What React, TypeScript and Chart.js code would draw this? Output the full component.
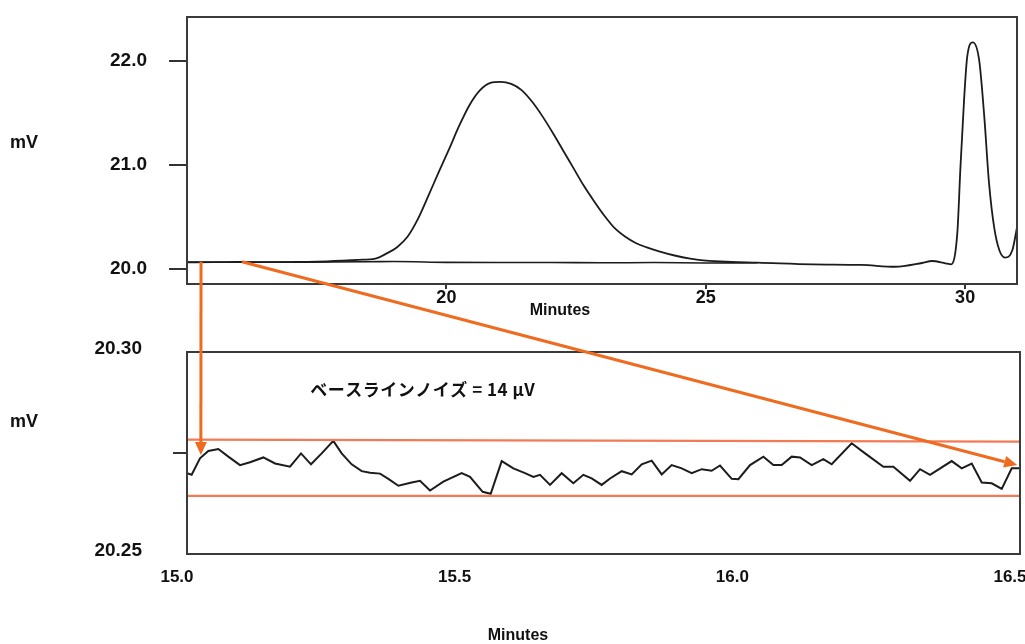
import React, { useEffect, useRef } from 'react';
import { Chart, registerables } from 'chart.js';

Chart.register(...registerables);

// ---------- upper panel (chromatogram) ----------
const mainTime = [
  15.0, 15.5, 16.0, 16.5, 17.0, 17.5, 18.0, 18.3, 18.63, 18.85, 19.05, 19.25, 19.45, 19.65, 19.85,
  20.05, 20.25, 20.45, 20.65, 20.85, 21.04, 21.25, 21.45, 21.65, 21.85, 22.05, 22.25, 22.45, 22.65,
  22.85, 23.05, 23.25, 23.45, 23.65, 23.85, 24.1, 24.4, 24.7, 25.0, 25.5, 26.0, 27.06, 28.0, 28.65,
  29.17, 29.36, 29.62, 29.73, 29.85, 29.91, 29.98, 30.04, 30.15, 30.27, 30.37, 30.46, 30.56, 30.66,
  30.77, 30.91, 31.0,
];
const mainValue = [
  20.065, 20.066, 20.068, 20.066, 20.067, 20.07, 20.08, 20.088, 20.1, 20.15, 20.21, 20.31, 20.48,
  20.7, 20.93, 21.15, 21.38, 21.58, 21.72, 21.79, 21.8, 21.78, 21.72, 21.61, 21.47, 21.31, 21.14,
  20.97, 20.8, 20.65, 20.51, 20.39, 20.31, 20.25, 20.21, 20.17, 20.13, 20.1, 20.08, 20.068, 20.062,
  20.045, 20.04, 20.022, 20.058, 20.077, 20.055, 20.045, 20.35, 20.98, 21.63, 22.04, 22.18, 22.01,
  21.46, 20.83, 20.4, 20.18, 20.11, 20.18, 20.4,
];
const blankTime = [15.0, 17.0, 18.5, 19.0, 20.0, 21.0, 22.0, 23.0, 24.0, 25.0, 26.0];
const blankValue = [20.065, 20.066, 20.07, 20.072, 20.064, 20.062, 20.063, 20.06, 20.062, 20.058, 20.06];
const topXTicks = [20, 25, 30];
const topYTicks = [20, 21, 22];

// ---------- lower panel (baseline noise) ----------
const noiseTime = [
  15.0, 15.0084, 15.0234, 15.0384, 15.0564, 15.0744, 15.0954, 15.1135, 15.1375, 15.1585, 15.1855,
  15.2053, 15.2233, 15.2425, 15.2635, 15.2785, 15.2965, 15.3146, 15.3296, 15.3476, 15.3626, 15.3806,
  15.4046, 15.4196, 15.4376, 15.4616, 15.4946, 15.5096, 15.5324, 15.5469, 15.5667, 15.5877, 15.6087,
  15.6237, 15.6357, 15.6537, 15.6747, 15.6957, 15.7137, 15.7287, 15.7467, 15.7618, 15.7828, 15.8008,
  15.8188, 15.8368, 15.8548, 15.8728, 15.8908, 15.9088, 15.9268, 15.9448, 15.9598, 15.9809, 15.9929,
  16.0139, 16.0379, 16.0559, 16.0709, 16.0889, 16.1039, 16.1249, 16.1459, 16.1609, 16.1969, 16.221,
  16.254, 16.272, 16.302, 16.32, 16.338, 16.377, 16.3951, 16.4131, 16.4311, 16.4491, 16.4671, 16.4851,
  16.5,
];
const noiseValue = [
  20.27, 20.2696, 20.2737, 20.2755, 20.276, 20.2741, 20.272, 20.2727, 20.2739, 20.2724, 20.2716,
  20.2749, 20.2722, 20.2749, 20.278, 20.2749, 20.2722, 20.2705, 20.2701, 20.2699, 20.2686, 20.2669,
  20.2677, 20.2681, 20.2657, 20.2679, 20.27, 20.2691, 20.2654, 20.2649, 20.273, 20.2712, 20.27,
  20.2691, 20.2696, 20.2671, 20.27, 20.2675, 20.2696, 20.2687, 20.2671, 20.2687, 20.2705, 20.2697,
  20.2722, 20.2731, 20.2697, 20.272, 20.2712, 20.27, 20.271, 20.2706, 20.2719, 20.2686, 20.2685,
  20.272, 20.2741, 20.272, 20.272, 20.2741, 20.2739, 20.272, 20.2735, 20.2722, 20.2774, 20.2749,
  20.2716, 20.2716, 20.2681, 20.271, 20.2696, 20.273, 20.2712, 20.2724, 20.2677, 20.2675, 20.2661,
  20.2712, 20.2712,
];
const bandTime = [15.0, 16.5];
const bandUpper = [20.2783, 20.2778];
const bandLower = [20.2644, 20.2644];
const bottomXTicks = [15.0, 15.5, 16.0, 16.5];
const bottomYTicks = [20.25, 20.275, 20.3];
const bottomYLabels = ['20.25', '', '20.30'];
const noiseText = 'ベースラインノイズ = 14 μV';
const noiseTextAt = [15.222, 20.2906];

// ---------- arrows (upper panel point -> lower panel point) ----------
const arrowFromTop = [
  [15.27, 20.07],
  [16.06, 20.07],
];
const arrowToBottom = [
  [15.025, 20.2745],
  [16.495, 20.272],
];

const W = 1025;
const TOP_H = 330;
const BOT_Y = 330;
const BOT_H = 314;
const FONT = "'Liberation Sans', Arial, Helvetica, sans-serif";
const INK = '#1c1c1c';

const boxPlugin = {
  id: 'boxFrame',
  afterDraw(chart: any) {
    const { ctx, chartArea: a } = chart;
    ctx.save();
    ctx.strokeStyle = '#3a3a3a';
    ctx.lineWidth = 2;
    ctx.strokeRect(a.left, a.top, a.right - a.left, a.bottom - a.top);
    ctx.restore();
  },
};

const noiseTextPlugin = {
  id: 'noiseText',
  afterDraw(chart: any) {
    const { ctx, scales } = chart;
    ctx.save();
    ctx.fillStyle = '#111';
    ctx.font = "bold 17px 'Noto Sans CJK JP', sans-serif";
    try {
      (ctx as any).letterSpacing = '0.5px';
    } catch (e) {
      /* ignore */
    }
    ctx.textAlign = 'left';
    ctx.textBaseline = 'middle';
    ctx.fillText(noiseText, scales.x.getPixelForValue(noiseTextAt[0]), scales.y.getPixelForValue(noiseTextAt[1]));
    ctx.restore();
  },
};

function pts(xs: number[], ys: number[]) {
  return xs.map((x, i) => ({ x, y: ys[i] }));
}

function drawArrow(ctx: CanvasRenderingContext2D, x1: number, y1: number, x2: number, y2: number) {
  const head = 13;
  const half = 6;
  const dx = x2 - x1;
  const dy = y2 - y1;
  const len = Math.hypot(dx, dy);
  const ux = dx / len;
  const uy = dy / len;
  const bx = x2 - ux * head;
  const by = y2 - uy * head;
  ctx.beginPath();
  ctx.moveTo(x1, y1);
  ctx.lineTo(bx, by);
  ctx.stroke();
  ctx.beginPath();
  ctx.moveTo(x2, y2);
  ctx.lineTo(bx - uy * half, by + ux * half);
  ctx.lineTo(bx + uy * half, by - ux * half);
  ctx.closePath();
  ctx.fill();
}

export default function App() {
  const topRef = useRef<HTMLCanvasElement>(null);
  const botRef = useRef<HTMLCanvasElement>(null);
  const overRef = useRef<HTMLCanvasElement>(null);

  useEffect(() => {
    const tickFont = { family: FONT, size: 18, weight: 'bold' as const, lineHeight: 1 };

    const top = new Chart(topRef.current!, {
      type: 'line',
      data: {
        datasets: [
          {
            data: pts(blankTime, blankValue),
            borderColor: INK,
            borderWidth: 1.6,
            pointRadius: 0,
            tension: 0.4,
            cubicInterpolationMode: 'monotone',
          },
          {
            data: pts(mainTime, mainValue),
            borderColor: INK,
            borderWidth: 1.8,
            pointRadius: 0,
            tension: 0.4,
            cubicInterpolationMode: 'monotone',
          },
        ],
      },
      options: {
        responsive: false,
        animation: false,
        layout: { padding: { top: 17, right: 8, bottom: 16, left: 0 } },
        plugins: { legend: { display: false }, tooltip: { enabled: false } },
        scales: {
          x: {
            type: 'linear',
            min: 15,
            max: 31,
            afterBuildTicks: (s: any) => {
              s.ticks = topXTicks.map((v) => ({ value: v }));
            },
            afterFit: (s: any) => {
              s.height = 30;
              s.paddingLeft = 0;
              s.paddingRight = 0;
            },
            border: { display: false },
            grid: { display: true, drawOnChartArea: false, drawTicks: true, tickLength: 5, color: '#333', lineWidth: 2 },
            ticks: {
              font: tickFont,
              color: '#111',
              padding: 0,
              maxRotation: 0,
              autoSkip: false,
              callback: (v: any) => String(v),
            },
          },
          y: {
            type: 'linear',
            min: 19.856,
            max: 22.423,
            afterBuildTicks: (s: any) => {
              s.ticks = topYTicks.map((v) => ({ value: v }));
            },
            afterFit: (s: any) => {
              s.width = 187;
              s.paddingTop = 0;
              s.paddingBottom = 0;
            },
            border: { display: false },
            grid: { display: true, drawOnChartArea: false, drawTicks: true, tickLength: 18, color: '#333', lineWidth: 2 },
            ticks: {
              font: { family: FONT, size: 19, weight: 'bold' as const, lineHeight: 1 },
              color: '#111',
              padding: 22,
              autoSkip: false,
              callback: (v: any) => Number(v).toFixed(1),
            },
          },
        },
      },
      plugins: [boxPlugin],
    } as any);

    const bot = new Chart(botRef.current!, {
      type: 'line',
      data: {
        datasets: [
          {
            data: pts(bandTime, bandUpper),
            borderColor: '#F27A55',
            borderWidth: 2.2,
            pointRadius: 0,
            tension: 0,
          },
          {
            data: pts(bandTime, bandLower),
            borderColor: '#F27A55',
            borderWidth: 2.2,
            pointRadius: 0,
            tension: 0,
          },
          {
            data: pts(noiseTime, noiseValue),
            borderColor: INK,
            borderWidth: 2,
            pointRadius: 0,
            tension: 0,
          },
        ],
      },
      options: {
        responsive: false,
        animation: false,
        layout: { padding: { top: 22, right: 5, bottom: 50, left: 0 } },
        plugins: { legend: { display: false }, tooltip: { enabled: false } },
        scales: {
          x: {
            type: 'linear',
            min: 15,
            max: 16.5,
            afterBuildTicks: (s: any) => {
              s.ticks = bottomXTicks.map((v) => ({ value: v }));
            },
            afterFit: (s: any) => {
              s.height = 40;
              s.paddingLeft = 0;
              s.paddingRight = 0;
            },
            border: { display: false },
            grid: { display: false, drawTicks: false },
            ticks: {
              font: { family: FONT, size: 17, weight: 'bold' as const, lineHeight: 1 },
              color: '#111',
              padding: 15,
              labelOffset: -10,
              maxRotation: 0,
              autoSkip: false,
              callback: (v: any) => Number(v).toFixed(1),
            },
          },
          y: {
            type: 'linear',
            min: 20.25,
            max: 20.3,
            afterBuildTicks: (s: any) => {
              s.ticks = bottomYTicks.map((v) => ({ value: v }));
            },
            afterFit: (s: any) => {
              s.width = 187;
              s.paddingTop = 0;
              s.paddingBottom = 0;
            },
            border: { display: false },
            grid: {
              display: true,
              drawOnChartArea: false,
              drawTicks: true,
              tickLength: 14,
              lineWidth: 2,
              color: (c: any) => (c.index === 1 ? '#333' : 'rgba(0,0,0,0)'),
              tickColor: (c: any) => (c.index === 1 ? '#333' : 'rgba(0,0,0,0)'),
            },
            ticks: {
              font: { family: FONT, size: 19, weight: 'bold' as const, lineHeight: 1 },
              color: '#111',
              padding: 31,
              labelOffset: -3,
              autoSkip: false,
              callback: (_v: any, i: number) => bottomYLabels[i],
            },
          },
        },
      },
      plugins: [boxPlugin, noiseTextPlugin],
    } as any);

    // overlay: arrows and axis titles
    const oc = overRef.current!;
    const ctx = oc.getContext('2d')!;
    ctx.clearRect(0, 0, W, 644);
    ctx.strokeStyle = '#EF6B1F';
    ctx.fillStyle = '#EF6B1F';
    ctx.lineWidth = 3;
    ctx.lineCap = 'butt';
    for (let i = 0; i < arrowFromTop.length; i++) {
      const x1 = top.scales.x.getPixelForValue(arrowFromTop[i][0]);
      const y1 = top.scales.y.getPixelForValue(arrowFromTop[i][1]);
      const x2 = bot.scales.x.getPixelForValue(arrowToBottom[i][0]);
      const y2 = bot.scales.y.getPixelForValue(arrowToBottom[i][1]) + BOT_Y;
      drawArrow(ctx, x1, y1, x2, y2);
    }
    ctx.fillStyle = '#111';
    ctx.textBaseline = 'middle';
    ctx.textAlign = 'left';
    ctx.font = `bold 18px ${FONT}`;
    ctx.fillText('mV', 10, 143);
    ctx.fillText('mV', 10, 422);
    ctx.textAlign = 'center';
    ctx.font = `bold 16px ${FONT}`;
    ctx.fillText('Minutes', 560, 311);
    ctx.fillText('Minutes', 518, 636);

    return () => {
      top.destroy();
      bot.destroy();
    };
  }, []);

  return (
    <div style={{ position: 'absolute', left: 0, top: 0, width: W, height: 644, background: '#fff', overflow: 'hidden' }}>
      <canvas ref={topRef} width={W} height={TOP_H} style={{ position: 'absolute', left: 0, top: 0, width: W, height: TOP_H }} />
      <canvas ref={botRef} width={W} height={BOT_H} style={{ position: 'absolute', left: 0, top: BOT_Y, width: W, height: BOT_H }} />
      <canvas ref={overRef} width={W} height={644} style={{ position: 'absolute', left: 0, top: 0, width: W, height: 644, pointerEvents: 'none' }} />
    </div>
  );
}
